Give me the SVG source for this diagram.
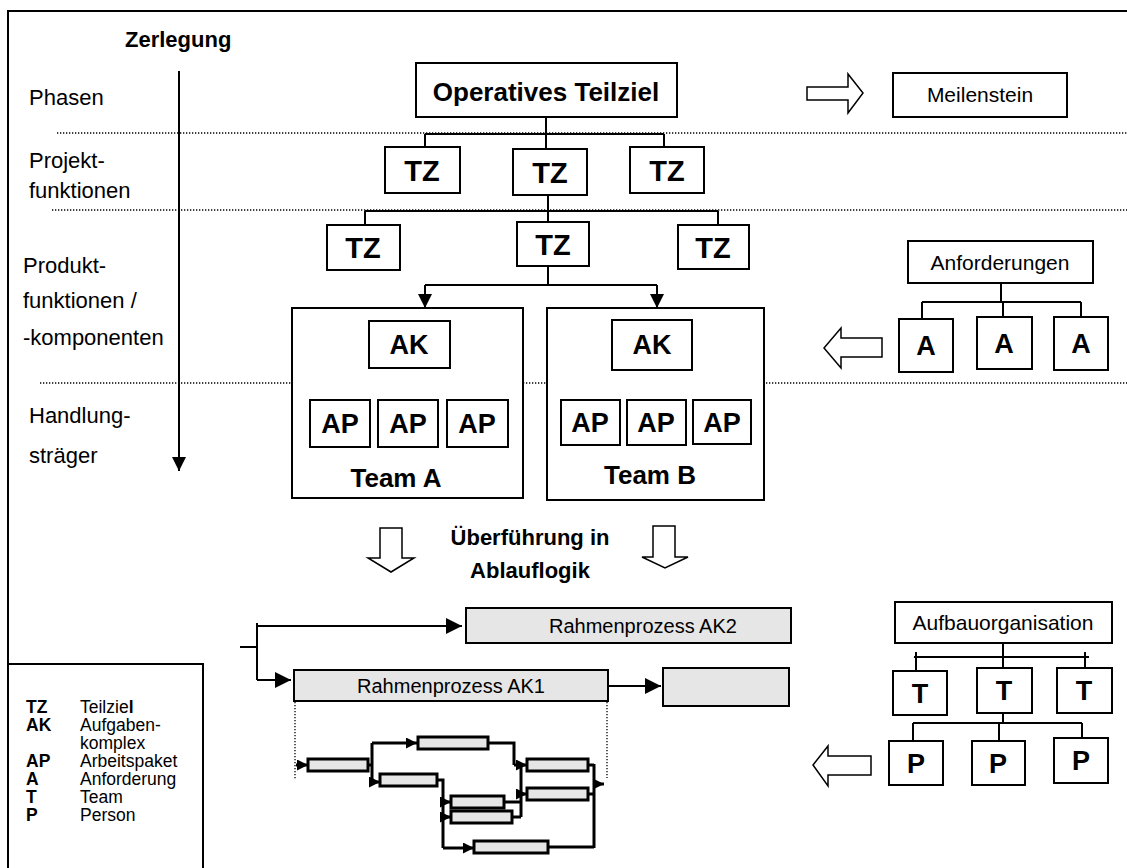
<svg xmlns="http://www.w3.org/2000/svg" width="1127" height="868" viewBox="0 0 1127 868">
<defs>
<style>
.bx{fill:#fff;stroke:#000;stroke-width:2}
.gb{fill:#e6e6e6;stroke:#000;stroke-width:2}
.fb{fill:#e6e6e6;stroke:#000;stroke-width:3}
.ln{fill:none;stroke:#000;stroke-width:2}
.fl{fill:none;stroke:#000;stroke-width:3}
.dt{fill:none;stroke:#000;stroke-width:1.3;stroke-dasharray:1.3 1.7}
.ba{fill:#fff;stroke:#000;stroke-width:1.5}
text{font-family:"Liberation Sans",Arial,sans-serif;fill:#000}
.lb{font-size:22px}
.nb{font-size:27px;font-weight:bold;text-anchor:middle}
.tz{font-size:29px;font-weight:bold;text-anchor:middle}
.nr{font-size:21px;text-anchor:middle}
.hd{font-size:22px;font-weight:bold}
.lg{font-size:17.5px}
.lgb{font-size:17.5px;font-weight:bold}
</style>
<marker id="ahL" viewBox="0 0 10 10" refX="10" refY="5" markerWidth="14" markerHeight="14" markerUnits="userSpaceOnUse" orient="auto"><path d="M0,0 L10,5 L0,10 z" fill="#000"/></marker>
<marker id="ahR" viewBox="0 0 10 10" refX="10" refY="5" markerWidth="16" markerHeight="16" markerUnits="userSpaceOnUse" orient="auto"><path d="M0,0 L10,5 L0,10 z" fill="#000"/></marker>
<marker id="ahS" viewBox="0 0 10 10" refX="10" refY="5" markerWidth="11" markerHeight="11" markerUnits="userSpaceOnUse" orient="auto"><path d="M0,0 L10,5 L0,10 z" fill="#000"/></marker>
</defs>
<rect x="0" y="0" width="1127" height="868" fill="#fff"/>
<rect x="8" y="11" width="1130" height="870" fill="none" stroke="#000" stroke-width="2"/>

<g id="dividers">
<line class="dt" x1="57" y1="133" x2="1127" y2="133"/>
<line class="dt" x1="52" y1="210" x2="1127" y2="210"/>
<line class="dt" x1="40" y1="383" x2="1127" y2="383"/>
</g>

<g id="axis">
<text class="hd" x="125" y="47">Zerlegung</text>
<line class="ln" x1="179" y1="71" x2="179" y2="471" marker-end="url(#ahL)"/>
<text class="lb" x="29" y="105">Phasen</text>
<text class="lb" x="29" y="168">Projekt-</text>
<text class="lb" x="29" y="198">funktionen</text>
<text class="lb" x="23" y="273">Produkt-</text>
<text class="lb" x="23" y="308">funktionen /</text>
<text class="lb" x="23" y="345">-komponenten</text>
<text class="lb" x="29" y="423">Handlung-</text>
<text class="lb" x="29" y="463">sträger</text>
</g>

<g id="connectors">
<path class="ln" d="M546,117 V134 M425,134 H664 M425,134 V147 M546,134 V149 M664,134 V147"/>
<path class="ln" d="M548,195 V211 M365,211 H718 M365,211 V225 M548,211 V222 M718,211 V225"/>
<path class="ln" d="M548,266 V285 M425,285 H657"/>
<line class="ln" x1="425" y1="285" x2="425" y2="308" marker-end="url(#ahL)"/>
<line class="ln" x1="657" y1="285" x2="657" y2="308" marker-end="url(#ahL)"/>
<path class="ln" d="M409,368 V384 M344,384 H472 M344,384 V400 M408,384 V400 M472,384 V400"/>
<path class="ln" d="M652,370 V382 M592,382 H720 M592,382 V400 M656,382 V400 M720,382 V400"/>
<path class="ln" d="M1001,283 V302 M922,302 H1081 M922,302 V319 M1003,302 V317 M1081,302 V317"/>
<path class="ln" d="M1003,643 V657 M914,657 H1089 M916,652 V671 M1003,657 V668 M1085,652 V668"/>
<path class="ln" d="M1003,713 V723 M913,723 H1082 M913,723 V741 M999,723 V741 M1082,723 V738"/>
<path class="ln" d="M240,647 H257 M257,623 V680"/>
<line class="ln" x1="257" y1="626" x2="462" y2="626" marker-end="url(#ahR)"/>
<line class="ln" x1="257" y1="680" x2="291" y2="680" marker-end="url(#ahR)"/>
<line class="ln" x1="608" y1="686" x2="661" y2="686" marker-end="url(#ahR)"/>
<line class="dt" x1="295" y1="702" x2="295" y2="780"/>
<line class="dt" x1="607" y1="702" x2="607" y2="778"/>
<line class="fl" x1="296" y1="765" x2="308" y2="765" marker-end="url(#ahS)"/>
<path class="fl" d="M368,765 H372 M372,743 V782"/>
<line class="fl" x1="372" y1="743" x2="417" y2="743" marker-end="url(#ahS)"/>
<line class="fl" x1="372" y1="782" x2="380" y2="782" marker-end="url(#ahS)"/>
<path class="fl" d="M488,743 H514 V765"/>
<line class="fl" x1="514" y1="765" x2="527" y2="765" marker-end="url(#ahS)"/>
<path class="fl" d="M437,780 H443 V848"/>
<line class="fl" x1="443" y1="848" x2="474" y2="848" marker-end="url(#ahS)"/>
<line class="fl" x1="443" y1="802" x2="451" y2="802" marker-end="url(#ahS)"/>
<line class="fl" x1="443" y1="817" x2="451" y2="817" marker-end="url(#ahS)"/>
<path class="fl" d="M504,802 H521 M512,817 H521 M521,765 V817"/>
<line class="fl" x1="521" y1="794" x2="527" y2="794" marker-end="url(#ahS)"/>
<path class="fl" d="M588,765 H594 M588,794 H594 M548,847 H594 M594,764 V848"/>
<line class="fl" x1="594" y1="784" x2="604" y2="784" marker-end="url(#ahS)"/>
</g>

<g id="block-arrows">
<polygon class="ba" points="807,87 848,87 848,74 863,93 848,113 848,100 807,100"/>
<polygon class="ba" points="882,338 841,338 841,328 824,348 841,368 841,357 882,357"/>
<polygon class="ba" points="871,756 828,756 828,746 813,765 828,786 828,775 871,775"/>
<polygon class="ba" points="380,528 402,528 402,558 414,558 391,572 368,558 380,558"/>
<polygon class="ba" points="653,526 675,526 675,557 688,557 665,568 642,557 653,557"/>
</g>

<g id="operatives-teilziel"><rect class="bx" x="416" y="63" width="261" height="54"/><text x="546" y="101" font-size="26" font-weight="bold" text-anchor="middle">Operatives Teilziel</text></g>
<g id="tz1"><rect class="bx" x="385" y="147" width="75" height="46"/><text class="tz" x="422" y="181">TZ</text></g>
<g id="tz2"><rect class="bx" x="513" y="149" width="74" height="46"/><text class="tz" x="550" y="183">TZ</text></g>
<g id="tz3"><rect class="bx" x="630" y="147" width="74" height="46"/><text class="tz" x="667" y="181">TZ</text></g>
<g id="tz4"><rect class="bx" x="327" y="225" width="73" height="45"/><text class="tz" x="363" y="258">TZ</text></g>
<g id="tz5"><rect class="bx" x="517" y="222" width="72" height="44"/><text class="tz" x="553" y="255">TZ</text></g>
<g id="tz6"><rect class="bx" x="678" y="225" width="71" height="44"/><text class="tz" x="713" y="258">TZ</text></g>

<g id="team-a">
<rect class="bx" x="292" y="308" width="231" height="190"/>
<text x="396" y="487" font-size="26" font-weight="bold" text-anchor="middle">Team A</text>
<g id="ak-a"><rect class="bx" x="369" y="321" width="81" height="47"/><text class="nb" x="409" y="354">AK</text></g>
<g id="ap-a1"><rect class="bx" x="310" y="400" width="60" height="47"/><text class="nb" x="340" y="433">AP</text></g>
<g id="ap-a2"><rect class="bx" x="378" y="400" width="60" height="47"/><text class="nb" x="408" y="433">AP</text></g>
<g id="ap-a3"><rect class="bx" x="447" y="400" width="61" height="47"/><text class="nb" x="477" y="433">AP</text></g>
</g>
<g id="team-b">
<rect class="bx" x="547" y="308" width="217" height="192"/>
<text x="650" y="484" font-size="26" font-weight="bold" text-anchor="middle">Team B</text>
<g id="ak-b"><rect class="bx" x="612" y="320" width="80" height="50"/><text class="nb" x="652" y="354">AK</text></g>
<g id="ap-b1"><rect class="bx" x="561" y="400" width="59" height="45"/><text class="nb" x="590" y="432">AP</text></g>
<g id="ap-b2"><rect class="bx" x="627" y="400" width="59" height="45"/><text class="nb" x="656" y="432">AP</text></g>
<g id="ap-b3"><rect class="bx" x="693" y="400" width="58" height="44"/><text class="nb" x="722" y="432">AP</text></g>
</g>

<g id="meilenstein"><rect class="bx" x="893" y="73" width="174" height="44"/><text class="nr" x="980" y="102">Meilenstein</text></g>
<g id="anforderungen"><rect class="bx" x="908" y="241" width="185" height="42"/><text class="nr" x="1000" y="270">Anforderungen</text></g>
<g id="a1"><rect class="bx" x="899" y="319" width="54" height="53"/><text class="nb" x="926" y="355">A</text></g>
<g id="a2"><rect class="bx" x="977" y="317" width="55" height="52"/><text class="nb" x="1004" y="353">A</text></g>
<g id="a3"><rect class="bx" x="1054" y="317" width="54" height="53"/><text class="nb" x="1081" y="353">A</text></g>

<g id="aufbauorganisation"><rect class="bx" x="895" y="602" width="217" height="41"/><text class="nr" x="1003" y="630">Aufbauorganisation</text></g>
<g id="t1"><rect class="bx" x="893" y="671" width="54" height="44"/><text class="nb" x="920" y="703">T</text></g>
<g id="t2"><rect class="bx" x="977" y="668" width="55" height="45"/><text class="nb" x="1004" y="700">T</text></g>
<g id="t3"><rect class="bx" x="1057" y="668" width="55" height="45"/><text class="nb" x="1084" y="700">T</text></g>
<g id="p1"><rect class="bx" x="889" y="741" width="54" height="44"/><text class="nb" x="916" y="773">P</text></g>
<g id="p2"><rect class="bx" x="972" y="741" width="53" height="44"/><text class="nb" x="998" y="773">P</text></g>
<g id="p3"><rect class="bx" x="1054" y="738" width="54" height="45"/><text class="nb" x="1081" y="770">P</text></g>

<g id="ueberfuehrung">
<text class="hd" x="530" y="545" text-anchor="middle">Überführung in</text>
<text class="hd" x="530" y="578" text-anchor="middle">Ablauflogik</text>
</g>

<g id="rahmen-ak2"><rect class="gb" x="466" y="608" width="325" height="35"/><text x="549" y="633" font-size="20">Rahmenprozess AK2</text></g>
<g id="rahmen-ak1"><rect class="gb" x="294" y="670" width="314" height="31"/><text x="451" y="693" font-size="20" text-anchor="middle">Rahmenprozess AK1</text></g>
<g id="rahmen-next"><rect class="gb" x="663" y="668" width="126" height="38"/></g>

<g id="flow-boxes">
<rect class="fb" x="308" y="759" width="60" height="12"/>
<rect class="fb" x="418" y="737" width="70" height="12"/>
<rect class="fb" x="380" y="774" width="57" height="12"/>
<rect class="fb" x="527" y="759" width="61" height="12"/>
<rect class="fb" x="527" y="788" width="61" height="12"/>
<rect class="fb" x="451" y="796" width="53" height="12"/>
<rect class="fb" x="451" y="811" width="61" height="12"/>
<rect class="fb" x="474" y="841" width="74" height="12"/>
</g>

<g id="legend">
<rect x="8" y="664" width="195" height="220" fill="#fff" stroke="#000" stroke-width="2"/>
<text class="lgb" x="26" y="713">TZ</text><text class="lg" x="80" y="713">Teilzie<tspan font-weight="bold">l</tspan></text>
<text class="lgb" x="26" y="731">AK</text><text class="lg" x="80" y="731">Aufgaben-</text>
<text class="lg" x="80" y="749">komplex</text>
<text class="lgb" x="26" y="767">AP</text><text class="lg" x="80" y="767">Arbeitspaket</text>
<text class="lgb" x="26" y="785">A</text><text class="lg" x="80" y="785">Anforderung</text>
<text class="lgb" x="26" y="803">T</text><text class="lg" x="80" y="803">Team</text>
<text class="lgb" x="26" y="821">P</text><text class="lg" x="80" y="821">Person</text>
</g>
</svg>
